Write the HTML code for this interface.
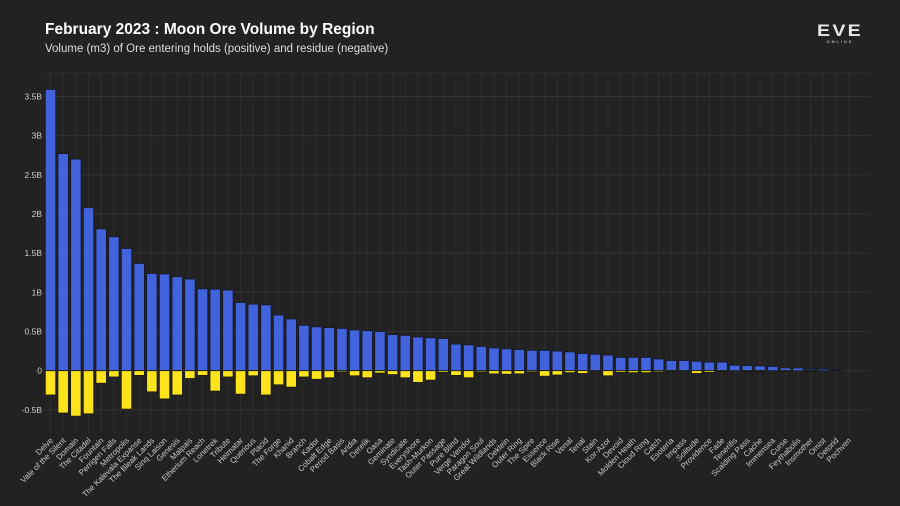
<!DOCTYPE html>
<html><head><meta charset="utf-8"><style>
html,body{margin:0;padding:0;background:#222222;}
body{width:900px;height:506px;overflow:hidden;position:relative;font-family:"Liberation Sans",sans-serif;}
#title{position:absolute;left:45px;top:21px;color:#fff;font-size:15.5px;font-weight:bold;}
#subtitle{position:absolute;left:45px;top:43px;color:#ddd;font-size:11.5px;}
#logo{position:absolute;left:812px;top:23px;width:56px;text-align:center;color:#e8e8e8;}
</style></head><body>
<div id="title">February 2023 : Moon Ore Volume by Region</div>
<div id="subtitle">Volume (m3) of Ore entering holds (positive) and residue (negative)</div>
<div id="logo"><div style="font-size:17px;font-weight:bold;letter-spacing:2px;line-height:16px;transform:scaleX(1.15)">EVE</div><div style="font-size:4px;letter-spacing:2px;line-height:6px;">ONLINE</div></div>
<svg id="chart" width="900" height="506" style="position:absolute;left:0;top:0"></svg>
<script>
const categories=["Delve","Vale of the Silent","Domain","The Citadel","Fountain","Perrigen Falls","Metropolis","The Kalevala Expanse","The Bleak Lands","Sinq Laison","Genesis","Malpais","Etherium Reach","Lonetrek","Tribute","Heimatar","Querious","Placid","The Forge","Khanid","Branch","Kador","Cobalt Edge","Period Basis","Aridia","Derelik","Oasa","Geminate","Syndicate","Everyshore","Tash-Murkon","Outer Passage","Pure Blind","Verge Vendor","Paragon Soul","Great Wildlands","Deklein","Outer Ring","The Spire","Essence","Black Rise","Venal","Tenal","Stain","Kor-Azor","Devoid","Molden Heath","Cloud Ring","Catch","Esoteria","Impass","Solitude","Providence","Fade","Tenerifis","Scalding Pass","Cache","Immensea","Curse","Feythabolis","Insmother","Omist","Detorid","Pochven"];
const oreVolume=[3.59,2.77,2.70,2.08,1.81,1.71,1.56,1.37,1.24,1.235,1.20,1.17,1.045,1.04,1.03,0.87,0.85,0.84,0.71,0.66,0.58,0.56,0.55,0.54,0.52,0.51,0.50,0.46,0.45,0.43,0.42,0.41,0.34,0.33,0.31,0.29,0.28,0.27,0.26,0.26,0.25,0.24,0.22,0.21,0.20,0.17,0.17,0.17,0.15,0.13,0.13,0.12,0.11,0.11,0.07,0.065,0.06,0.055,0.035,0.035,0.018,0.02,0.01,0];
const residueVolume=[-0.31,-0.54,-0.58,-0.55,-0.16,-0.08,-0.49,-0.06,-0.27,-0.36,-0.31,-0.10,-0.06,-0.26,-0.08,-0.30,-0.065,-0.31,-0.18,-0.21,-0.08,-0.11,-0.09,-0.015,-0.065,-0.09,-0.03,-0.05,-0.09,-0.15,-0.12,-0.02,-0.06,-0.09,-0.015,-0.04,-0.045,-0.04,-0.015,-0.07,-0.055,-0.025,-0.035,-0.005,-0.065,-0.02,-0.025,-0.025,-0.015,-0.01,-0.005,-0.035,-0.02,-0.01,0,-0.01,-0.01,0,-0.01,0,-0.01,0,0,0];
const tickValues=[-0.5,0,0.5,1,1.5,2,2.5,3,3.5];
const tickLabels=["-0.5B","0","0.5B","1B","1.5B","2B","2.5B","3B","3.5B"];

const NS="http://www.w3.org/2000/svg";
const svg=document.getElementById('chart');
const zeroY=370.7, pxPerB=78.35, x0=50.5, step=12.67, bw=10.4;
const plotTop=73, plotBottom=433, plotLeft=44, plotRight=870;
const yScale=v=>zeroY-v*pxPerB;
const xScale=i=>x0+i*step;
function mk(tag,attrs){const e=document.createElementNS(NS,tag);for(const k in attrs)e.setAttribute(k,attrs[k]);svg.appendChild(e);return e;}

categories.forEach((c,i)=>{
  const l=mk('line',{x1:xScale(i),x2:xScale(i),y1:plotTop,y2:plotBottom,stroke:'#2e2e2e','stroke-width':1});
  
  
});
const topLine=mk('line',{x1:plotLeft,x2:plotRight,y1:plotTop,y2:plotTop,stroke:'#2e2e2e'});


tickValues.forEach((v,i)=>{
  const l=mk('line',{x1:plotLeft,x2:plotRight,y1:yScale(v),y2:yScale(v),stroke:'#333','stroke-width':1});
  
  
  const t=mk('text',{x:42,y:yScale(v)+3,'text-anchor':'end',fill:'#cfcfcf','font-size':'8.5px','font-family':'Liberation Sans, sans-serif'});
  t.textContent=tickLabels[i];
  
  
});
categories.forEach((c,i)=>{
  const pv=oreVolume[i];
  if(pv>0){
    const r=mk('rect',{x:xScale(i)-bw/2,y:yScale(pv),width:bw,height:yScale(0)-yScale(pv),fill:'#4263db',stroke:'#14172a','stroke-width':0.8});
    
    
  }
  const nv=residueVolume[i];
  if(nv<0){
    const r=mk('rect',{x:xScale(i)-bw/2,y:yScale(0),width:bw,height:yScale(nv)-yScale(0),fill:'#fde31c',stroke:'#1a1a0a','stroke-width':0.8});
    
    
  }
  const t=mk('text',{x:0,y:0,'text-anchor':'end',fill:'#c8c8c8','font-size':'8px','font-family':'Liberation Sans, sans-serif',transform:`translate(${xScale(i)+3},${441}) rotate(-45)`});
  t.textContent=c;
  
  
});
</script>
</body></html>
